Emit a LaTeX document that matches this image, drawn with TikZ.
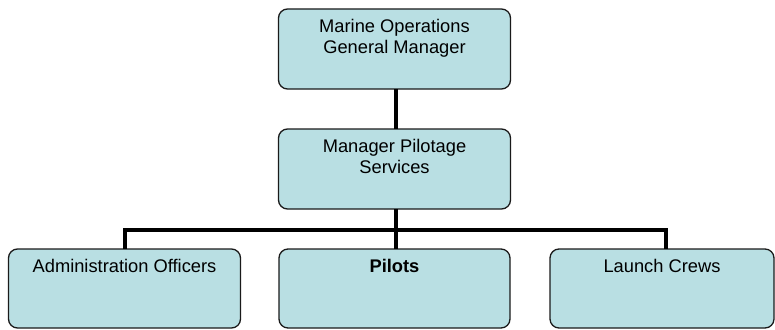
\documentclass[tikz,border=0pt]{standalone}
\usepackage{fontspec}
\setmainfont{Liberation Sans}
\definecolor{boxfill}{HTML}{B9DFE3}
\definecolor{boxline}{HTML}{1A1A1A}
\tikzset{
  box/.style={draw=boxline, line width=1.3pt, fill=boxfill, rounded corners=9pt,
    inner sep=0pt, outer sep=0pt, anchor=north west},
  conn/.style={line width=4.8pt, draw=black, line join=miter},
}
\newcommand{\boxtext}[3]{\begin{minipage}[c][#2][t]{#1}\centering\fontsize{18.3}{21}\selectfont\rule{0pt}{23.3pt}#3\end{minipage}}
\begin{document}
\begin{tikzpicture}[x=1pt,y=-1pt]
\useasboundingbox (0,0) rectangle (775,329);
\node[box] (top) at (278.5,9) {\boxtext{232pt}{80pt}{Marine Operations\\General Manager}};
\node[box] (mid) at (278.5,129) {\boxtext{232pt}{80pt}{Manager Pilotage\\Services}};
\node[box] (adm) at (8.5,249) {\boxtext{232pt}{79pt}{Administration Officers}};
\node[box] (pil) at (279,249) {\boxtext{231pt}{79pt}{\bfseries Pilots}};
\node[box] (lau) at (550,249) {\boxtext{224pt}{79pt}{Launch Crews}};
\draw[conn] ([xshift=1.5pt]top.south) -- ([xshift=1.5pt]mid.north);
\draw[conn] ([xshift=1.5pt]mid.south) -- ([xshift=1.5pt]pil.north);
\draw[conn] ([xshift=0.5pt]adm.north) -- ++(0,-19) -| ([xshift=4pt]lau.north);
\end{tikzpicture}
\end{document}
